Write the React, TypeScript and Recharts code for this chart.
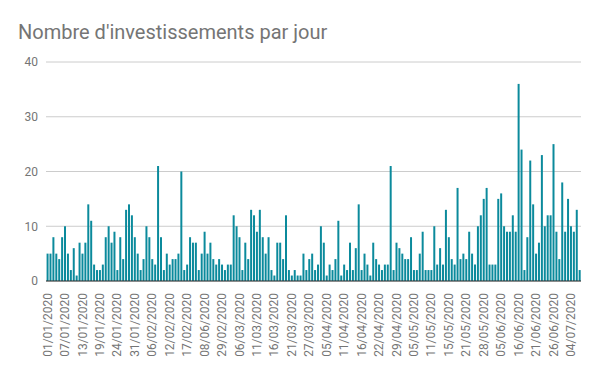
import React from "react";
import { BarChart, Bar, XAxis, YAxis, CartesianGrid } from "recharts";

const values: number[] = [
  5, 5, 8, 5, 4, 8, 10, 5, 2, 6, 1, 7, 5, 7, 14, 11, 3, 2, 2, 3, 8, 10, 7, 9, 2, 8, 4, 13, 14, 12, 8, 5, 2, 4, 10, 8, 4, 3, 21, 8, 2, 5, 3,
  4, 4, 5, 20, 2, 3, 8, 7, 7, 2, 5, 9, 5, 7, 4, 3, 4, 3, 2, 3, 3, 12, 10, 8, 2, 7, 4, 13, 12, 9, 13, 8, 5, 8, 2, 1, 7, 7, 4, 12, 2,
  1, 2, 1, 1, 5, 2, 4, 5, 2, 3, 10, 7, 1, 3, 2, 4, 11, 1, 3, 2, 7, 2, 6, 14, 2, 5, 3, 1, 7, 4, 3, 2, 3, 3, 21, 2, 7, 6, 5, 4, 4,
  8, 2, 2, 5, 9, 2, 2, 2, 10, 3, 6, 3, 13, 8, 4, 3, 17, 4, 5, 4, 9, 5, 3, 10, 12, 15, 17, 3, 3, 3, 15, 16, 10, 9, 9, 12, 9, 36, 24, 2,
  8, 22, 14, 5, 7, 23, 10, 12, 12, 25, 9, 4, 18, 9, 15, 10, 9, 13, 2,
];

const tickLabels: string[] = [
  "01/01/2020", "07/01/2020", "13/01/2020", "19/01/2020", "24/01/2020", "31/01/2020",
  "06/02/2020", "12/02/2020", "17/02/2020", "08/06/2020", "29/02/2020", "06/03/2020",
  "11/03/2020", "16/03/2020", "21/03/2020", "27/03/2020", "05/04/2020", "11/04/2020",
  "16/04/2020", "22/04/2020", "29/04/2020", "05/05/2020", "11/05/2020", "15/05/2020",
  "21/05/2020", "28/05/2020", "05/06/2020", "16/06/2020", "21/06/2020", "26/06/2020",
  "04/07/2020",
];

const yTicks = [0, 10, 20, 30, 40];
const LABEL_STEP = 6;

const data = values.map((v, i) => ({ idx: i, v }));

const FONT = "Roboto, 'Noto Sans', sans-serif";

const XTick = (props: any) => {
  const { x, y, payload } = props;
  const i = payload.value as number;
  const label = i % LABEL_STEP === 0 ? tickLabels[i / LABEL_STEP] : "";
  if (!label) return null;
  const ty = y + 4;
  return (
    <text
      x={x}
      y={ty}
      dy="0.35em"
      transform={`rotate(-90, ${x}, ${ty})`}
      textAnchor="end"
      fill="#757575"
      fontSize={12}
      fontFamily={FONT}
    >
      {label}
    </text>
  );
};

export default function App() {
  return (
    <div style={{ position: "absolute", left: 0, top: 0, width: 600, height: 371, background: "#fff" }}>
      <svg width={600} height={50} style={{ position: "absolute", left: 0, top: 0 }}>
        <text x={18} y={39} fontSize={20} fill="#757575" fontFamily={FONT}>
          Nombre d'investissements par jour
        </text>
      </svg>
      <div style={{ position: "absolute", left: 0, top: 0 }}>
        <BarChart
          width={600}
          height={371}
          data={data}
          margin={{ top: 62, right: 19, bottom: 0, left: 0 }}
          barCategoryGap="20%"
        >
          <CartesianGrid vertical={false} stroke="#cccccc" />
          <XAxis
            dataKey="idx"
            interval={0}
            tick={<XTick />}
            tickLine={false}
            axisLine={{ stroke: "#333333", strokeWidth: 1 }}
            height={90}
          />
          <YAxis
            domain={[0, 40]}
            ticks={yTicks}
            width={46}
            tickLine={false}
            axisLine={false}
            tick={{ fill: "#757575", fontSize: 12, fontFamily: FONT }}
          />
          <Bar dataKey="v" fill="#0b8a9c" isAnimationActive={false} />
        </BarChart>
      </div>
    </div>
  );
}
